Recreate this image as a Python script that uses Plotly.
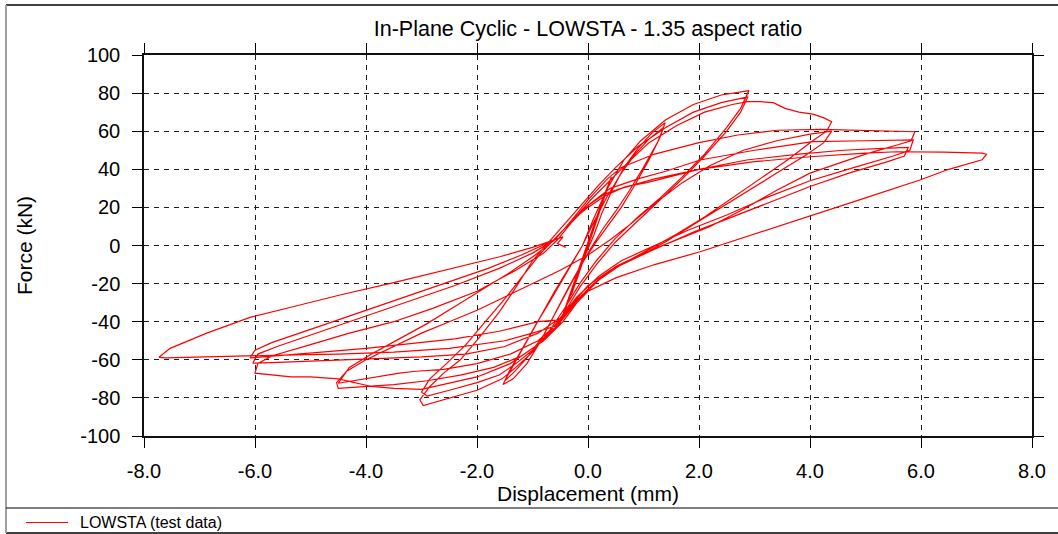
import plotly.graph_objects as go

# ---------------- data (displacement mm, force kN) ----------------
# small elastic cycles
disp_c0 = [0.00, 0.08, 0.15, 0.06, -0.05, -0.14, -0.05, 0.05, 0.18, 0.28, 0.15, 0.00, -0.15, -0.30,
           -0.18, -0.02, 0.15, 0.30, 0.42, 0.30, 0.12, -0.08, -0.25, -0.42, -0.52, -0.40, -0.22, -0.05]
force_c0 = [0, 7, 14, 6, -4, -12, -4, 4, 15, 24, 14, 1, -13, -26,
            -16, -2, 13, 26, 36, 27, 12, -5, -20, -34, -42, -33, -18, -5]

# +/-1.4 mm cycles
disp_c1 = [0.10, 0.25, 0.45, 0.65, 0.90, 1.15, 1.39, 1.30, 1.10, 0.85, 0.60, 0.40, 0.15,
           -0.10, -0.35, -0.60, -0.85, -1.10, -1.35, -1.53, -1.42, -1.20, -0.95, -0.70, -0.50, -0.30, -0.10,
           0.10, 0.35, 0.60, 0.85, 1.10, 1.36, 1.25, 1.00, 0.75, 0.50, 0.25, 0.00,
           -0.25, -0.50, -0.80, -1.10, -1.35, -1.50, -1.35, -1.10, -0.85, -0.60, -0.35, -0.10]
force_c1 = [5, 17, 30, 41, 51, 59, 64.5, 57, 45, 32, 20, 12, 2,
            -9, -22, -36, -50, -62, -70, -73, -66, -55, -42, -30, -20, -10, 0,
            12, 26, 38, 48, 56, 62, 54, 41, 29, 18, 8, -4,
            -17, -31, -47, -59, -67, -71, -63, -50, -37, -24, -12, 0]

# +/-2.9 mm cycles
disp_c2 = [0.10, 0.35, 0.65, 0.95, 1.40, 1.90, 2.40, 2.90,
           2.75, 2.50, 2.10, 1.70, 1.30, 0.90, 0.50, 0.15, -0.15, -0.40, -0.70, -1.00, -1.30, -1.55,
           -2.00, -2.50, -2.85, -2.97, -3.03,
           -2.85, -2.60, -2.30, -1.95, -1.60, -1.30, -1.00, -0.70, -0.40, -0.10, 0.20, 0.50, 0.90,
           1.40, 1.90, 2.40, 2.88,
           2.75, 2.50, 2.10, 1.70, 1.30, 0.90, 0.50, 0.15, -0.15, -0.40, -0.70, -1.00, -1.30, -1.60,
           -2.00, -2.50, -2.90, -3.00,
           -2.85, -2.55, -2.20, -1.85, -1.50, -1.15, -0.85, -0.55, -0.25, 0.05, 0.35, 0.70, 1.10,
           1.60, 2.10, 2.60, 2.88]
force_c2 = [14, 30, 45, 55, 66, 74, 79, 81.3,
            72, 62, 48, 36, 25, 15, 4, -8, -20, -32, -45, -56, -64, -70,
            -76, -80, -83, -84, -81,
            -74, -67, -60, -48, -35, -22, -8, 2, 12, 22, 32, 41, 52,
            62, 70, 75, 78,
            70, 60, 47, 35, 24, 13, 2, -10, -22, -34, -46, -55, -62, -68,
            -72, -76, -79, -77,
            -70, -62, -52, -40, -28, -15, -4, 5, 14, 24, 33, 43, 54,
            63, 70, 74, 75.5]

# +/-4.4 mm cycles
disp_c3 = [3.10, 3.34, 3.55, 3.80, 4.05, 4.25, 4.39,
           4.30, 4.05, 3.60, 3.10, 2.60, 2.10, 1.60, 1.10, 0.60, 0.20, -0.15, -0.45,
           -0.80, -1.20, -1.70, -2.30, -2.90, -3.50, -4.00, -4.30, -4.50, -4.53,
           -4.35, -4.00, -3.50, -3.00, -2.50, -2.00, -1.50, -1.00, -0.50, 0.00, 0.40, 0.80,
           1.20, 1.70, 2.20, 2.80, 3.40, 4.00, 4.39,
           4.25, 3.90, 3.40, 2.90, 2.40, 1.90, 1.40, 0.90, 0.40, 0.00, -0.30, -0.55,
           -0.90, -1.40, -2.00, -2.60, -3.10, -3.40, -3.80, -4.20, -4.50,
           -4.30, -3.90, -3.40, -2.90, -2.40, -1.90, -1.40, -0.95, -0.60, -0.30, 0.00, 0.35, 0.60]
force_c3 = [75.5, 75, 72, 70, 69, 67, 65,
            60, 55, 45, 35, 25, 15, 6, -2, -10, -18, -28, -40,
            -50, -58, -64, -68, -71, -73, -74, -74.5, -75, -72,
            -66, -60, -53, -46, -40, -34, -27, -20, -13, -5, 3, 12,
            22, 33, 42, 50, 55, 58.5, 60,
            54, 47, 38, 29, 20, 11, 2, -6, -13, -21, -31, -41,
            -50, -57, -62, -65, -66, -67, -69, -71, -72.3,
            -64, -57, -49, -41, -32, -23, -14, -5, 3, 13, 24, 35, 41]

# +/-5.9 mm cycles (three repetitions)
disp_c4a = [1.20, 2.00, 2.70, 3.40, 4.20, 5.00, 5.60, 5.89,
            5.82, 5.60, 5.00, 4.40, 4.00, 3.40, 2.80, 2.20, 1.60, 1.00, 0.50, 0.10, -0.25, -0.55,
            -0.90, -1.40, -2.00, -2.60, -3.00, -3.50, -3.90, -4.50, -5.00, -5.35, -5.70, -6.00,
            -5.95, -5.70, -5.00, -4.30, -3.50, -2.80, -2.00, -1.30, -0.80, -0.55, -0.30, 0.00, 0.40]
force_c4a = [48, 54, 58, 60.5, 61, 60.5, 60, 59.7,
             55, 53, 48, 42, 38, 29, 19, 10, 3, -4, -11, -20, -30, -42,
             -52, -62, -69, -73, -75.5, -75, -74, -70, -69, -69, -68, -67,
             -62, -58, -52, -46, -40, -33, -24, -13, -4, 3, 12, 21, 30]
disp_c4b = [0.90, 1.40, 2.02, 3.00, 4.05, 5.00, 5.60, 5.86,
            5.80, 5.50, 4.80, 4.00, 3.20, 2.50, 1.80, 1.20, 0.60, 0.20, -0.20, -0.50,
            -0.90, -1.50, -2.20, -3.00, -3.80, -4.50, -5.20, -5.70, -6.04,
            -5.95, -5.60, -4.80, -4.00, -3.20, -2.40, -1.60, -1.00, -0.60, -0.30, 0.00, 0.30]
force_c4b = [35, 39, 44.9, 50, 54.5, 55, 55.3, 55.4,
             50, 47, 41, 34, 25, 16, 8, 0, -8, -16, -27, -38,
             -46, -53, -57, -58.5, -59.5, -60, -61, -61.5, -61.8,
             -57, -53, -45, -37, -29, -21, -12, -4, 3, 13, 21, 27]
disp_c4c = [0.70, 1.06, 2.00, 2.86, 3.80, 4.60, 5.30, 5.77,
            5.70, 5.40, 4.70, 4.00, 3.30, 2.60, 1.90, 1.20, 0.60, 0.20, -0.20, -0.50,
            -0.90, -1.60, -2.40, -3.20, -4.00, -4.80, -5.50, -6.09,
            -6.00, -5.70, -5.00, -4.20, -3.40, -2.60, -1.80, -1.20, -0.60, -0.30, 0.00, 0.30, 0.60]
force_c4c = [31, 33, 40, 44.9, 48, 50, 51, 51.5,
             47, 44, 38, 31, 23, 15, 7, -2, -10, -18, -29, -39,
             -40, -45, -49, -51.5, -54, -56, -57.5, -59,
             -55, -51, -44, -36, -28, -20, -12, -5, 3, 13, 20, 26, 30]

# +7.2 / -7.7 mm cycle
disp_c5 = [1.20, 2.00, 3.00, 4.00, 5.00, 5.56, 6.40, 6.90, 7.10, 7.18,
           7.10, 6.50, 5.98, 5.00, 4.00, 3.00, 2.02, 1.20, 0.50, 0.00, -0.30, -0.55,
           -1.00, -1.50, -2.50, -3.50, -4.50, -5.50, -6.10, -7.00, -7.60, -7.73,
           -7.53, -6.87, -6.09, -5.30, -4.47, -3.50, -2.55, -1.59, -1.00, -0.60, -0.45, -0.55, -0.40]
force_c5 = [35, 40, 44, 46.6, 48.5, 49.2, 49, 48.8, 48.5, 47.9,
            45, 40, 34.4, 25, 15.5, 6, -3.3, -10, -17, -24, -33, -42,
            -46, -50, -54, -56, -57, -57.5, -58, -58.5, -59, -58.7,
            -54, -46, -37.7, -32, -26, -19.5, -12.9, -5.9, -1, 3, 4.5, 1, -1]

x_tick_vals = [-8, -6, -4, -2, 0, 2, 4, 6, 8]
x_tick_labels = ["-8.0", "-6.0", "-4.0", "-2.0", "0.0", "2.0", "4.0", "6.0", "8.0"]
y_tick_vals = [-100, -80, -60, -40, -20, 0, 20, 40, 60, 80, 100]
y_tick_labels = ["-100", "-80", "-60", "-40", "-20", "0", "20", "40", "60", "80", "100"]

series_name = "LOWSTA (test data)"
title_text = "In-Plane Cyclic - LOWSTA - 1.35 aspect ratio"

disp = disp_c0 + disp_c1 + disp_c2 + disp_c3 + disp_c4a + disp_c4b + disp_c4c + disp_c5
force = force_c0 + force_c1 + force_c2 + force_c3 + force_c4a + force_c4b + force_c4c + force_c5

# ---------------- layout geometry (pixels) ----------------
W, H = 1058, 534
L, R, T, B = 144, 1032, 55, 436


def fx(px):
    return (px - L) / (R - L)


def fy(py):
    return (B - py) / (B - T)


FONT = "Liberation Sans, Arial, Helvetica, sans-serif"

fig = go.Figure()
fig.add_trace(go.Scatter(x=disp, y=force, mode="lines", name=series_name,
                         line=dict(color="#ff0000", width=1.2), showlegend=False))

axis_common = dict(showline=True, linecolor="#111111", linewidth=1.5, mirror="allticks",
                   ticks="outside", ticklen=10, tickwidth=1, tickcolor="black",
                   showgrid=True, gridcolor="#1e1e1e", gridwidth=1, griddash="5px,5px",
                   zeroline=False, tickfont=dict(size=20, family=FONT, color="black"))

fig.update_xaxes(range=[-8, 8], tickmode="array", tickvals=x_tick_vals, ticktext=x_tick_labels,
                 title=dict(text="Displacement (mm)", font=dict(size=21, family=FONT), standoff=6),
                 ticklabelstandoff=6, **axis_common)
fig.update_yaxes(range=[-100, 100], tickmode="array", tickvals=y_tick_vals, ticktext=y_tick_labels,
                 title=dict(text="Force (kN)", font=dict(size=21, family=FONT), standoff=42),
                 ticklabelstandoff=8, **axis_common)

shapes = [
    # outer frame
    dict(type="line", xref="paper", yref="paper", x0=fx(6), x1=fx(1060), y0=fy(5), y1=fy(5),
         line=dict(color="black", width=1.5)),
    dict(type="line", xref="paper", yref="paper", x0=fx(6), x1=fx(1060), y0=fy(533), y1=fy(533),
         line=dict(color="black", width=1.5)),
    dict(type="line", xref="paper", yref="paper", x0=fx(6), x1=fx(6), y0=fy(5), y1=fy(533),
         line=dict(color="#a0a0a0", width=2)),
    # legend separator
    dict(type="line", xref="paper", yref="paper", x0=fx(6), x1=fx(1060), y0=fy(508), y1=fy(508),
         line=dict(color="black", width=1)),
    # legend sample line
    dict(type="line", xref="paper", yref="paper", x0=fx(26), x1=fx(68), y0=fy(522.5), y1=fy(522.5),
         line=dict(color="#ff0000", width=1.2)),
]

annotations = [
    dict(text=series_name, xref="paper", yref="paper", x=fx(78), y=fy(522.5), xanchor="left",
         yanchor="middle", showarrow=False, font=dict(size=16, family=FONT, color="black")),
]

fig.update_layout(
    width=W, height=H,
    margin=dict(l=L, r=W - R, t=T, b=H - B, autoexpand=False),
    paper_bgcolor="white", plot_bgcolor="white",
    font=dict(family=FONT, color="black"),
    title=dict(text=title_text, x=0.5, xref="paper", xanchor="center",
               y=1 - 28 / H, yref="container", yanchor="middle",
               font=dict(size=21.5, family=FONT, color="black")),
    shapes=shapes, annotations=annotations, showlegend=False,
)

fig.write_html("out.html")
